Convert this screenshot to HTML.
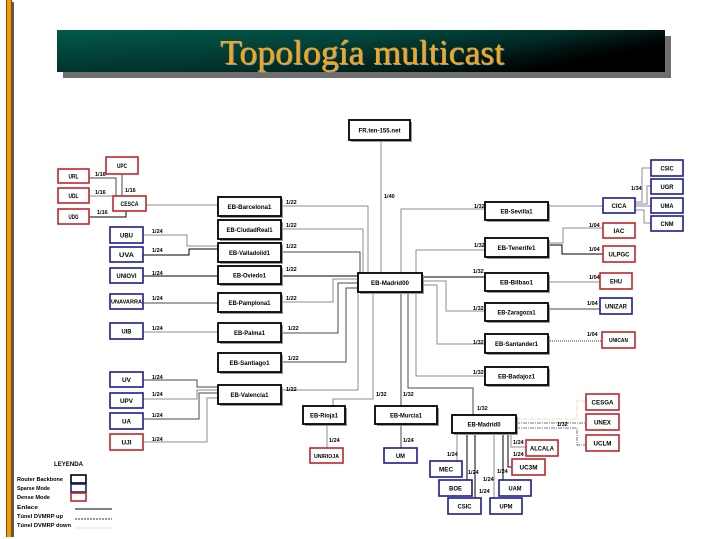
<!DOCTYPE html>
<html><head><meta charset="utf-8"><style>
html,body{margin:0;padding:0;background:#fff;width:719px;height:539px;overflow:hidden}
svg{display:block}
.b{font-family:"Liberation Sans",Arial,sans-serif;font-weight:bold;font-size:6.5px;fill:#000}
.l{font-family:"Liberation Sans",Arial,sans-serif;font-weight:bold;font-size:5.5px;fill:#000}
.g{stroke:#8c8c8c;stroke-width:1;fill:none}
.d{stroke:#4a4a4a;stroke-width:1;fill:none}
.k{stroke:#000;stroke-width:1;fill:none}
.eb{fill:#fff;stroke:#000;stroke-width:1.8}
.r{fill:#fff;stroke:#c0262c;stroke-width:1.6}
.u{fill:#fff;stroke:#1c1c90;stroke-width:1.6}
.sh{fill:#9a9a9a}
</style></head><body>
<svg width="719" height="539" viewBox="0 0 719 539" xmlns="http://www.w3.org/2000/svg">
<defs>
<linearGradient id="tg" x1="0" y1="0" x2="1" y2="0.35">
<stop offset="0" stop-color="#035a4c"/>
<stop offset="0.5" stop-color="#024a40"/>
<stop offset="0.78" stop-color="#012e28"/>
<stop offset="1" stop-color="#000"/>
</linearGradient>
<linearGradient id="tv" x1="0" y1="0" x2="0" y2="1">
<stop offset="0" stop-color="#000" stop-opacity="0"/>
<stop offset="1" stop-color="#000" stop-opacity="0.35"/>
</linearGradient>
</defs>
<!-- left bar -->
<rect x="6" y="0" width="1" height="537" fill="#7a4b00"/>
<rect x="7" y="0" width="4" height="537" fill="#f29a00"/>
<rect x="11" y="0" width="1" height="537" fill="#7a4b00"/>
<rect x="12" y="2" width="2" height="535" fill="#5a5a5a"/>
<!-- title -->
<rect x="63" y="36" width="608" height="42" fill="#6e6e6e"/>
<rect x="57" y="30" width="608" height="42" fill="url(#tg)"/>
<rect x="57" y="30" width="608" height="42" fill="url(#tv)"/>
<text x="221" y="65" font-family="'Liberation Serif',serif" font-size="35" fill="#9a9a9a" textLength="284" lengthAdjust="spacingAndGlyphs">Topología multicast</text>
<text x="220" y="64" font-family="'Liberation Serif',serif" font-size="35" fill="#f2a81a" textLength="284" lengthAdjust="spacingAndGlyphs">Topología multicast</text>

<!-- connectors left cluster -->
<polyline class="d" points="89,178 116,178 116,196"/>
<polyline class="d" points="122,174 122,196"/>
<polyline class="g" points="89,196 113,196"/>
<polyline class="k" points="89,217 126,217 126,211"/>
<polyline class="g" points="146,205 218,205"/>
<polyline class="g" points="143,235 187,235 187,246 218,246"/>
<polyline class="k" points="143,255 189,255 189,249 218,249"/>
<polyline class="k" points="143,276 218,276"/>
<polyline class="d" points="143,303 218,303"/>
<polyline class="g" points="143,332 218,332"/>
<polyline class="d" points="143,380 197,380 197,387 218,387"/>
<polyline class="g" points="143,399 197,399 197,390 218,390"/>
<polyline class="d" points="143,419 199,419 199,393 218,393"/>
<polyline class="g" points="143,442 207,442 207,398 218,398"/>

<!-- EB left to Madrid00 -->
<polyline class="g" points="281,206 368,206 368,273"/>
<polyline class="g" points="281,229 363,229 363,273"/>
<polyline class="d" points="281,252 360,252 360,273"/>
<polyline class="k" points="281,276 358,276"/>
<polyline class="g" points="281,302 333,302 333,279 358,279"/>
<polyline class="d" points="281,333 338,333 338,283 358,283"/>
<polyline class="d" points="281,362 346,362 346,288 358,288"/>
<polyline class="g" points="281,390 358,390 358,292"/>
<polyline class="g" points="333,406 333,399 373,399 373,292"/>

<!-- Madrid00 right/top/bottom -->
<polyline class="g" points="381,140 381,273"/>
<polyline class="g" points="401,273 401,209 485,209"/>
<polyline class="g" points="416,273 416,250 485,250"/>
<polyline class="k" points="422,277 485,277"/>
<polyline class="g" points="422,281 446,281 446,311 485,311"/>
<polyline class="g" points="422,285 437,285 437,344 485,344"/>
<polyline class="g" points="416,292 416,376 485,376"/>
<polyline class="d" points="408,292 408,388 473,388 473,415"/>
<polyline class="d" points="401,292 401,406"/>

<!-- right far -->
<polyline class="g" points="548,206 603,206"/>
<polyline class="g" points="635,202 642,202 642,168 651,168"/>
<polyline class="g" points="635,204 647,204 647,186 651,186"/>
<polyline class="g" points="635,206 651,206"/>
<polyline class="g" points="635,210 644,210 644,223 651,223"/>
<polyline class="g" points="548,243 563,243 563,228 603,228"/>
<polyline class="k" points="548,245 562,245 562,254 603,254"/>
<polyline class="g" points="548,282 600,282"/>
<polyline class="d" points="548,309 600,309"/>
<polyline points="548,341 602,341" stroke="#333" stroke-width="1" stroke-dasharray="1,1" fill="none"/>
<polyline points="516,419 577,419 577,401 586,401" stroke="#e8dcb0" stroke-width="1" stroke-dasharray="4,1,1,1" fill="none"/>
<polyline points="516,423 586,423" stroke="#777" stroke-width="1" stroke-dasharray="4,1,1,1" fill="none"/>
<polyline points="516,428 577,428 577,445 586,445" stroke="#777" stroke-width="1" stroke-dasharray="4,1,1,1" fill="none"/>
<polyline class="g" points="511,433 511,447 526,447"/>
<polyline class="k" points="508,433 508,467 512,467"/>
<polyline class="g" points="457,433 457,461"/>
<polyline class="k" points="467,433 467,480"/>
<polyline class="k" points="475,433 475,498"/>
<polyline class="g" points="494,433 494,498"/>
<polyline class="k" points="503,433 503,480"/>
<polyline class="g" points="327,424 327,448"/>
<polyline class="d" points="401,424 401,448"/>

<!-- EB boxes (shadow + box) -->
<g>
<rect class="sh" x="351" y="122" width="61" height="20"/><rect class="eb" x="349" y="120" width="61" height="20"/>
<rect class="sh" x="220" y="199" width="63" height="19"/><rect class="eb" x="218" y="197" width="63" height="19"/>
<rect class="sh" x="220" y="222" width="63" height="19"/><rect class="eb" x="218" y="220" width="63" height="19"/>
<rect class="sh" x="220" y="245" width="63" height="19"/><rect class="eb" x="218" y="243" width="63" height="19"/>
<rect class="sh" x="220" y="268" width="63" height="18"/><rect class="eb" x="218" y="266" width="63" height="18"/>
<rect class="sh" x="220" y="295" width="63" height="19"/><rect class="eb" x="218" y="293" width="63" height="19"/>
<rect class="sh" x="220" y="325" width="63" height="19"/><rect class="eb" x="218" y="323" width="63" height="19"/>
<rect class="sh" x="220" y="355" width="63" height="19"/><rect class="eb" x="218" y="353" width="63" height="19"/>
<rect class="sh" x="220" y="387" width="63" height="19"/><rect class="eb" x="218" y="385" width="63" height="19"/>
<rect class="sh" x="360" y="275" width="64" height="19"/><rect class="eb" x="358" y="273" width="64" height="19"/>
<rect class="sh" x="487" y="204" width="63" height="18"/><rect class="eb" x="485" y="202" width="63" height="18"/>
<rect class="sh" x="487" y="240" width="63" height="19"/><rect class="eb" x="485" y="238" width="63" height="19"/>
<rect class="sh" x="487" y="275" width="63" height="18"/><rect class="eb" x="485" y="273" width="63" height="18"/>
<rect class="sh" x="487" y="305" width="63" height="18"/><rect class="eb" x="485" y="303" width="63" height="18"/>
<rect class="sh" x="487" y="336" width="63" height="19"/><rect class="eb" x="485" y="334" width="63" height="19"/>
<rect class="sh" x="487" y="369" width="63" height="18"/><rect class="eb" x="485" y="367" width="63" height="18"/>
<rect class="sh" x="305" y="408" width="42" height="18"/><rect class="eb" x="303" y="406" width="42" height="18"/>
<rect class="sh" x="377" y="408" width="62" height="18"/><rect class="eb" x="375" y="406" width="62" height="18"/>
<rect class="sh" x="454" y="417" width="64" height="18"/><rect class="eb" x="452" y="415" width="64" height="18"/>
</g>
<g class="b" text-anchor="middle">
<text x="379.5" y="132.3" textLength="42" lengthAdjust="spacingAndGlyphs">FR.ten-155.net</text>
<text x="249.5" y="208.8" textLength="44" lengthAdjust="spacingAndGlyphs">EB-Barcelona1</text>
<text x="249.5" y="231.8" textLength="46" lengthAdjust="spacingAndGlyphs">EB-CiudadReal1</text>
<text x="249.5" y="254.8" textLength="41" lengthAdjust="spacingAndGlyphs">EB-Valladolid1</text>
<text x="249.5" y="277.3" textLength="33" lengthAdjust="spacingAndGlyphs">EB-Oviedo1</text>
<text x="249.5" y="304.8" textLength="42" lengthAdjust="spacingAndGlyphs">EB-Pamplona1</text>
<text x="249.5" y="334.8" textLength="31" lengthAdjust="spacingAndGlyphs">EB-Palma1</text>
<text x="249.5" y="364.8" textLength="40" lengthAdjust="spacingAndGlyphs">EB-Santiago1</text>
<text x="249.5" y="396.8" textLength="38" lengthAdjust="spacingAndGlyphs">EB-Valencia1</text>
<text x="390" y="284.8" textLength="38" lengthAdjust="spacingAndGlyphs">EB-Madrid00</text>
<text x="516.5" y="213.3" textLength="32" lengthAdjust="spacingAndGlyphs">EB-Sevilla1</text>
<text x="516.5" y="249.8" textLength="38" lengthAdjust="spacingAndGlyphs">EB-Tenerife1</text>
<text x="516.5" y="284.3" textLength="33" lengthAdjust="spacingAndGlyphs">EB-Bilbao1</text>
<text x="516.5" y="314.3" textLength="38" lengthAdjust="spacingAndGlyphs">EB-Zaragoza1</text>
<text x="516.5" y="345.8" textLength="43" lengthAdjust="spacingAndGlyphs">EB-Santander1</text>
<text x="516.5" y="378.3" textLength="37" lengthAdjust="spacingAndGlyphs">EB-Badajoz1</text>
<text x="324" y="417.3" textLength="28" lengthAdjust="spacingAndGlyphs">EB-Rioja1</text>
<text x="406" y="417.3" textLength="32" lengthAdjust="spacingAndGlyphs">EB-Murcia1</text>
<text x="484" y="426.3" textLength="33" lengthAdjust="spacingAndGlyphs">EB-Madrid0</text>
</g>

<!-- red boxes -->
<g>
<rect class="r" x="106" y="157" width="32" height="17"/>
<rect class="r" x="58" y="169" width="31" height="14"/>
<rect class="r" x="58" y="188" width="31" height="15"/>
<rect class="r" x="58" y="209" width="31" height="15"/>
<rect class="r" x="113" y="196" width="33" height="15"/>
<rect class="r" x="110" y="434" width="33" height="16"/>
<rect class="r" x="310" y="448" width="33" height="15"/>
<rect class="r" x="603" y="223" width="32" height="15"/>
<rect class="r" x="603" y="246" width="32" height="16"/>
<rect class="r" x="600" y="273" width="32" height="16"/>
<rect class="r" x="602" y="332" width="33" height="16"/>
<rect class="r" x="586" y="394" width="33" height="16"/>
<rect class="r" x="586" y="414" width="33" height="16"/>
<rect class="r" x="586" y="435" width="33" height="16"/>
<rect class="r" x="526" y="440" width="32" height="16"/>
<rect class="r" x="512" y="459" width="33" height="16"/>
</g>
<!-- blue boxes -->
<g>
<rect class="u" x="110" y="227" width="33" height="16"/>
<rect class="u" x="110" y="247" width="33" height="15"/>
<rect class="u" x="110" y="268" width="33" height="15"/>
<rect class="u" x="110" y="294" width="33" height="15"/>
<rect class="u" x="110" y="323" width="33" height="16"/>
<rect class="u" x="110" y="372" width="33" height="15"/>
<rect class="u" x="110" y="393" width="33" height="15"/>
<rect class="u" x="110" y="413" width="33" height="16"/>
<rect class="u" x="384" y="448" width="33" height="15"/>
<rect class="u" x="603" y="198" width="32" height="15"/>
<rect class="u" x="651" y="160" width="32" height="16"/>
<rect class="u" x="651" y="179" width="32" height="15"/>
<rect class="u" x="651" y="198" width="32" height="15"/>
<rect class="u" x="651" y="216" width="32" height="15"/>
<rect class="u" x="600" y="298" width="32" height="16"/>
<rect class="u" x="430" y="461" width="32" height="16"/>
<rect class="u" x="439" y="480" width="33" height="16"/>
<rect class="u" x="448" y="498" width="33" height="16"/>
<rect class="u" x="499" y="480" width="32" height="16"/>
<rect class="u" x="490" y="498" width="32" height="16"/>
</g>
<g class="b" text-anchor="middle">
<text x="122" y="167.8" textLength="10" lengthAdjust="spacingAndGlyphs">UPC</text>
<text x="73.5" y="178.3" textLength="10" lengthAdjust="spacingAndGlyphs">URL</text>
<text x="73.5" y="197.8" textLength="10" lengthAdjust="spacingAndGlyphs">UDL</text>
<text x="73.5" y="218.8" textLength="10" lengthAdjust="spacingAndGlyphs">UDG</text>
<text x="129.5" y="205.8" textLength="18" lengthAdjust="spacingAndGlyphs">CESCA</text>
<text x="126.5" y="444.3" textLength="10" lengthAdjust="spacingAndGlyphs">UJI</text>
<text x="326.5" y="457.8" textLength="25" lengthAdjust="spacingAndGlyphs" font-size="5.5">UNIRIOJA</text>
<text x="619" y="232.8" textLength="11" lengthAdjust="spacingAndGlyphs">IAC</text>
<text x="619" y="256.3" textLength="21" lengthAdjust="spacingAndGlyphs">ULPGC</text>
<text x="616" y="283.3" textLength="12" lengthAdjust="spacingAndGlyphs">EHU</text>
<text x="618.5" y="342" textLength="19" lengthAdjust="spacingAndGlyphs" font-size="5">UNICAN</text>
<text x="602.5" y="404.3" textLength="22" lengthAdjust="spacingAndGlyphs">CESGA</text>
<text x="602.5" y="424.3" textLength="17" lengthAdjust="spacingAndGlyphs">UNEX</text>
<text x="602.5" y="445.3" textLength="18" lengthAdjust="spacingAndGlyphs">UCLM</text>
<text x="542" y="450.3" textLength="24" lengthAdjust="spacingAndGlyphs">ALCALA</text>
<text x="528.5" y="469.3" textLength="18" lengthAdjust="spacingAndGlyphs">UC3M</text>

<text x="126.5" y="237.3" textLength="13" lengthAdjust="spacingAndGlyphs">UBU</text>
<text x="126.5" y="256.8" textLength="15" lengthAdjust="spacingAndGlyphs">UVA</text>
<text x="126.5" y="277.8" textLength="20" lengthAdjust="spacingAndGlyphs">UNIOVI</text>
<text x="126.5" y="303.5" textLength="31" lengthAdjust="spacingAndGlyphs" font-size="5">UNAVARRA</text>
<text x="126.5" y="333.3" textLength="10" lengthAdjust="spacingAndGlyphs">UIB</text>
<text x="126.5" y="381.8" textLength="9" lengthAdjust="spacingAndGlyphs">UV</text>
<text x="126.5" y="402.8" textLength="13" lengthAdjust="spacingAndGlyphs">UPV</text>
<text x="126.5" y="423.3" textLength="9" lengthAdjust="spacingAndGlyphs">UA</text>
<text x="400.5" y="457.8" textLength="9" lengthAdjust="spacingAndGlyphs">UM</text>
<text x="619" y="207.8" textLength="15" lengthAdjust="spacingAndGlyphs">CICA</text>
<text x="667" y="170.3" textLength="13" lengthAdjust="spacingAndGlyphs">CSIC</text>
<text x="667" y="188.8" textLength="13" lengthAdjust="spacingAndGlyphs">UGR</text>
<text x="667" y="207.8" textLength="13" lengthAdjust="spacingAndGlyphs">UMA</text>
<text x="667" y="225.8" textLength="13" lengthAdjust="spacingAndGlyphs">CNM</text>
<text x="616" y="308.3" textLength="22" lengthAdjust="spacingAndGlyphs">UNIZAR</text>
<text x="446" y="471.3" textLength="14" lengthAdjust="spacingAndGlyphs">MEC</text>
<text x="455.5" y="490.3" textLength="13" lengthAdjust="spacingAndGlyphs">BOE</text>
<text x="464.5" y="508.3" textLength="14" lengthAdjust="spacingAndGlyphs">CSIC</text>
<text x="515" y="490.3" textLength="13" lengthAdjust="spacingAndGlyphs">UAM</text>
<text x="506" y="508.3" textLength="13" lengthAdjust="spacingAndGlyphs">UPM</text>
</g>

<!-- link labels -->
<g class="l">
<text x="95" y="176">1/16</text>
<text x="95" y="194">1/16</text>
<text x="97" y="214">1/16</text>
<text x="125" y="192">1/16</text>
<text x="152" y="233">1/24</text>
<text x="152" y="252">1/24</text>
<text x="152" y="275">1/24</text>
<text x="152" y="300">1/24</text>
<text x="152" y="330">1/24</text>
<text x="152" y="379">1/24</text>
<text x="152" y="396">1/24</text>
<text x="152" y="417">1/24</text>
<text x="152" y="441">1/24</text>
<text x="286" y="204">1/22</text>
<text x="286" y="227">1/22</text>
<text x="286" y="248">1/22</text>
<text x="286" y="271">1/22</text>
<text x="286" y="300">1/22</text>
<text x="288" y="330">1/22</text>
<text x="288" y="360">1/22</text>
<text x="286" y="391">1/22</text>
<text x="384" y="198">1/40</text>
<text x="474" y="208">1/32</text>
<text x="474" y="247">1/32</text>
<text x="473" y="273">1/32</text>
<text x="473" y="310">1/32</text>
<text x="473" y="344">1/32</text>
<text x="473" y="374">1/32</text>
<text x="477" y="410">1/32</text>
<text x="376" y="396">1/32</text>
<text x="403" y="396">1/32</text>
<text x="329" y="442">1/24</text>
<text x="403" y="442">1/24</text>
<text x="631" y="190">1/34</text>
<text x="589" y="227">1/04</text>
<text x="589" y="251">1/04</text>
<text x="589" y="279">1/04</text>
<text x="587" y="305">1/04</text>
<text x="587" y="336">1/04</text>
<text x="557" y="426">1/32</text>
<text x="447" y="456">1/24</text>
<text x="468" y="474">1/24</text>
<text x="479" y="493">1/24</text>
<text x="483" y="481">1/24</text>
<text x="497" y="473">1/24</text>
<text x="513" y="456">1/24</text>
<text x="513" y="444">1/24</text>
</g>

<!-- legend -->
<g class="l">
<text x="54" y="466" font-size="6.5" textLength="29" lengthAdjust="spacingAndGlyphs">LEYENDA</text>
<text x="17" y="481" textLength="46" lengthAdjust="spacingAndGlyphs">Router Backbone</text>
<text x="17" y="490" textLength="33" lengthAdjust="spacingAndGlyphs">Sparse Mode</text>
<text x="17" y="499" textLength="33" lengthAdjust="spacingAndGlyphs">Dense Mode</text>
<text x="17" y="509" textLength="21" lengthAdjust="spacingAndGlyphs">Enlace</text>
<text x="17" y="518" textLength="46" lengthAdjust="spacingAndGlyphs">Túnel DVMRP up</text>
<text x="17" y="527" textLength="54" lengthAdjust="spacingAndGlyphs">Túnel DVMRP down</text>
</g>
<rect x="71" y="475" width="15" height="8" fill="#fff" stroke="#000" stroke-width="1.6"/>
<rect x="71" y="484" width="15" height="8" fill="#fff" stroke="#1c1c90" stroke-width="1.6"/>
<rect x="71" y="493" width="15" height="8" fill="#fff" stroke="#c0262c" stroke-width="1.6"/>
<line x1="75" y1="509" x2="112" y2="509" stroke="#000" stroke-width="1"/>
<line x1="75" y1="519" x2="112" y2="519" stroke="#333" stroke-width="1" stroke-dasharray="2,1"/>
<line x1="75" y1="528" x2="112" y2="528" stroke="#e8dca0" stroke-width="1" stroke-dasharray="2,1"/>
</svg>
</body></html>
